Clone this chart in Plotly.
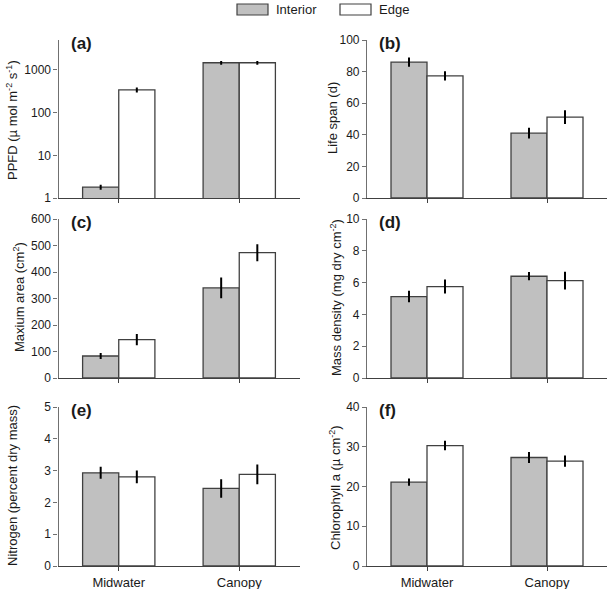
import plotly.graph_objects as go

W, H = 610, 589

categories = ["Midwater", "Canopy"]
series_names = ["Interior", "Edge"]

ppfd_interior = [1.8, 1470]
ppfd_interior_err = [0.25, 150]
ppfd_edge = [340, 1470]
ppfd_edge_err = [45, 150]

lifespan_interior = [86, 41]
lifespan_interior_err = [3, 3.4]
lifespan_edge = [77.3, 51.2]
lifespan_edge_err = [3, 4.4]

area_interior = [83, 340]
area_interior_err = [11, 39]
area_edge = [145, 473]
area_edge_err = [21, 32]

density_interior = [5.12, 6.4]
density_interior_err = [0.36, 0.26]
density_edge = [5.75, 6.13]
density_edge_err = [0.44, 0.56]

nitrogen_interior = [2.93, 2.44]
nitrogen_interior_err = [0.19, 0.29]
nitrogen_edge = [2.80, 2.88]
nitrogen_edge_err = [0.2, 0.31]

chl_interior = [21.1, 27.3]
chl_interior_err = [0.9, 1.4]
chl_edge = [30.3, 26.4]
chl_edge_err = [1.2, 1.4]

panel_labels = ["(a)", "(b)", "(c)", "(d)", "(e)", "(f)"]
y_titles = [
    "PPFD (µ mol m<sup>-2</sup> s<sup>-1</sup>)",
    "Life span (d)",
    "Maxium area (cm<sup>2</sup>)",
    "Mass density (mg dry cm<sup>-2</sup>)",
    "Nitrogen (percent dry mass)",
    "Chlorophyll a (µ cm<sup>-2</sup>)",
]
log_ticks = [1, 10, 100, 1000]
panels = [
    (ppfd_interior, ppfd_interior_err, ppfd_edge, ppfd_edge_err),
    (lifespan_interior, lifespan_interior_err, lifespan_edge, lifespan_edge_err),
    (area_interior, area_interior_err, area_edge, area_edge_err),
    (density_interior, density_interior_err, density_edge, density_edge_err),
    (nitrogen_interior, nitrogen_interior_err, nitrogen_edge, nitrogen_edge_err),
    (chl_interior, chl_interior_err, chl_edge, chl_edge_err),
]
y_ranges = [None, [0, 100], [0, 600], [0, 10], [0, 5], [0, 40]]
y_dticks = [None, 20, 100, 2, 1, 10]

FONT = "Arial, 'Liberation Sans', sans-serif"
TXT = "#1a1a1a"
AX = "#404040"
GREY = "#c0c0c0"

def px_x(p):
    return p / W

def px_y(p):
    return 1 - p / H

# pixel layout in window coordinates: (left, right) and (top, bottom)
cols_px = [(58.5, 299.5), (367, 607)]
rows_px = [(40, 198), (219, 378), (407, 566)]

fig = go.Figure()
annotations = []
for i, (vi, ei, ve, ee) in enumerate(panels):
    r, c = divmod(i, 2)
    ax_id = "" if i == 0 else str(i + 1)
    xa, ya = "x" + ax_id, "y" + ax_id
    for name, vals, errs, fill in [(series_names[0], vi, ei, GREY), (series_names[1], ve, ee, "white")]:
        fig.add_trace(go.Bar(
            x=categories, y=vals, name=name, xaxis=xa, yaxis=ya,
            marker=dict(color=fill, line=dict(color=AX, width=1.3)),
            error_y=dict(type="data", array=errs, visible=True, thickness=2, width=0, color="black"),
            showlegend=False,
        ))
    xd = [px_x(cols_px[c][0]), px_x(cols_px[c][1])]
    yd = [px_y(rows_px[r][1]), px_y(rows_px[r][0])]
    xaxis = dict(domain=xd, anchor=ya, range=[-0.5, 1.5], showline=True, linecolor=AX, linewidth=1.2,
                 ticks="outside", ticklen=4, tickcolor=AX, showgrid=False, zeroline=False,
                 showticklabels=(r == 2), tickfont=dict(family=FONT, size=13, color=TXT),
                 automargin=False, fixedrange=True)
    yaxis = dict(domain=yd, anchor=xa, showline=True, linecolor="#707070", linewidth=1.2,
                 ticks="outside", ticklen=4, tickcolor="#707070", showgrid=False, zeroline=False,
                 tickfont=dict(family=FONT, size=12, color=TXT), automargin=False, fixedrange=True)
    if i == 0:
        yaxis.update(type="log", range=[0, 3.7], tickvals=log_ticks, ticktext=[str(t) for t in log_ticks])
    else:
        yaxis.update(range=y_ranges[i], dtick=y_dticks[i], tick0=0)
    fig.update_layout(**{"xaxis" + ax_id: xaxis, "yaxis" + ax_id: yaxis})

    # panel label
    annotations.append(dict(text="<b>%s</b>" % panel_labels[i], xref="paper", yref="paper",
                            x=px_x(cols_px[c][0] + 10), y=px_y(rows_px[r][0] + 3),
                            xanchor="left", yanchor="middle", showarrow=False,
                            font=dict(family=FONT, size=17, color=TXT)))

# y titles positions (centre, window px)
ytitle_pos = [(12, 120), (332, 118), (19, 297), (336, 298), (12, 486), (335, 488)]
for i, t in enumerate(y_titles):
    xp, yp = ytitle_pos[i]
    annotations.append(dict(text=t, xref="paper", yref="paper", x=px_x(xp), y=px_y(yp),
                            xanchor="center", yanchor="middle", textangle=-90, showarrow=False,
                            font=dict(family=FONT, size=13, color=TXT)))

# legend drawn manually
shapes = []
legend_items = [(series_names[0], GREY, 237, 268), (series_names[1], "white", 340, 371)]
for name, fill, x0, x1 in legend_items:
    shapes.append(dict(type="rect", xref="paper", yref="paper", x0=px_x(x0), x1=px_x(x1),
                       y0=px_y(15), y1=px_y(4), fillcolor=fill, line=dict(color=AX, width=1.2)))
    annotations.append(dict(text=name, xref="paper", yref="paper", x=px_x(x1 + 6), y=px_y(9.5),
                            xanchor="left", yanchor="middle", showarrow=False,
                            font=dict(family=FONT, size=13, color=TXT)))

fig.update_layout(
    width=W, height=H, margin=dict(l=0, r=0, t=0, b=0),
    barmode="group", bargap=0.4, bargroupgap=0,
    plot_bgcolor="white", paper_bgcolor="white",
    annotations=annotations, shapes=shapes, showlegend=False,
    font=dict(family=FONT, color=TXT),
)

# remove the browser's default 8px body margin so the figure fills the window exactly
fig.write_html("out.html", config={"displayModeBar": False},
               post_script="document.body.style.margin='0';document.body.style.overflow='hidden';")
